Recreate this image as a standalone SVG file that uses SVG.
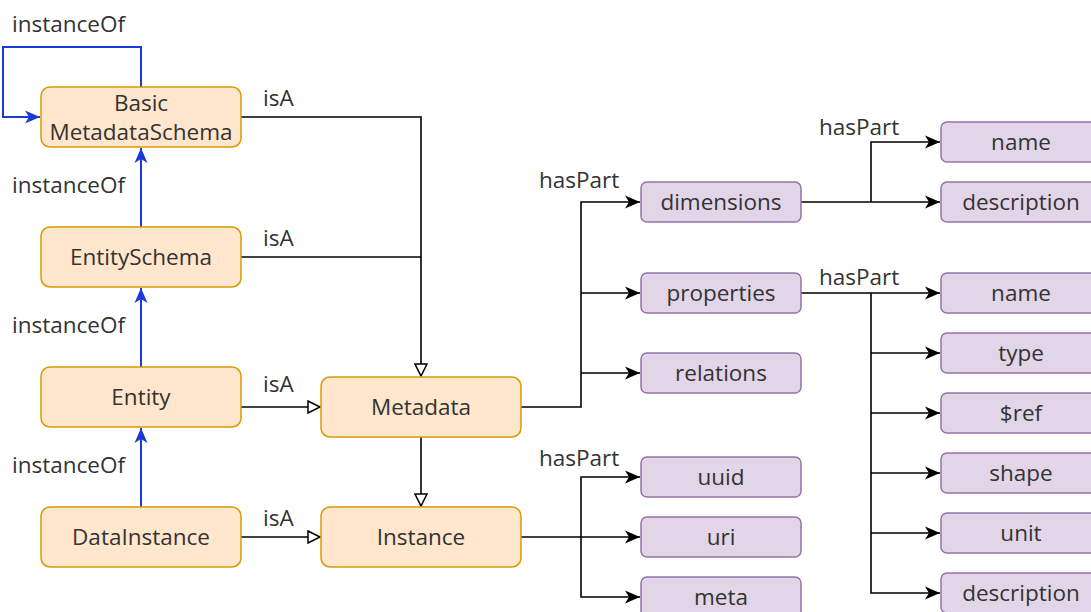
<svg xmlns="http://www.w3.org/2000/svg" width="1091" height="612" viewBox="0 0 1091 612">
  <style>
    text { font-family: "Open Sans", "Liberation Sans", sans-serif; font-size: 22.5px; fill: #333333; }
    .c { text-anchor: middle; dominant-baseline: central; }
    .cls rect { fill: #ffe6cc; stroke: #d79b00; stroke-width: 1.5; }
    .part rect { fill: #e1d5e7; stroke: #9673a6; stroke-width: 1.5; }
    .e { fill: none; stroke: #000000; stroke-width: 1.6; }
    .blue { fill: none; stroke: #1b3bd9; stroke-width: 2; }
  </style>
  <defs>
    <marker id="arrow" markerUnits="userSpaceOnUse" markerWidth="16" markerHeight="14" refX="15" refY="7" orient="auto" viewBox="0 0 16 14">
      <path d="M0,0.5 L15,7 L0,13.5 L4,7 Z" fill="#000000"/>
    </marker>
    <marker id="arrowBlue" markerUnits="userSpaceOnUse" markerWidth="16" markerHeight="14" refX="15" refY="7" orient="auto" viewBox="0 0 16 14">
      <path d="M0,0.5 L15,7 L0,13.5 L4,7 Z" fill="#1b3bd9"/>
    </marker>
    <marker id="block" markerUnits="userSpaceOnUse" markerWidth="15" markerHeight="14" refX="13" refY="7" orient="auto" viewBox="0 0 15 14">
      <path d="M1,1 L13,7 L1,13 Z" fill="#ffffff" stroke="#000000" stroke-width="1.5"/>
    </marker>
  </defs>

  <!-- connectors -->
  <g id="connectors">
    <!-- instanceOf chain -->
    <path class="blue" d="M141,87 V47 H3 V117 H40" marker-end="url(#arrowBlue)"/>
    <path class="blue" d="M141,227 V148" marker-end="url(#arrowBlue)"/>
    <path class="blue" d="M141,367 V288" marker-end="url(#arrowBlue)"/>
    <path class="blue" d="M141,507 V428" marker-end="url(#arrowBlue)"/>
    <!-- isA -->
    <path class="e" d="M241,117 H421 V376" marker-end="url(#block)"/>
    <path class="e" d="M241,257 H421"/>
    <path class="e" d="M241,407 H320" marker-end="url(#block)"/>
    <path class="e" d="M241,537 H320" marker-end="url(#block)"/>
    <path class="e" d="M421,437 V506" marker-end="url(#block)"/>
    <!-- Metadata hasPart -->
    <path class="e" d="M521,407 H581 V202 H640" marker-end="url(#arrow)"/>
    <path class="e" d="M581,293 H640" marker-end="url(#arrow)"/>
    <path class="e" d="M581,373 H640" marker-end="url(#arrow)"/>
    <!-- Instance hasPart -->
    <path class="e" d="M521,537 H640" marker-end="url(#arrow)"/>
    <path class="e" d="M581,537 V477 H640" marker-end="url(#arrow)"/>
    <path class="e" d="M581,537 V597 H640" marker-end="url(#arrow)"/>
    <!-- dimensions hasPart -->
    <path class="e" d="M801,202 H940" marker-end="url(#arrow)"/>
    <path class="e" d="M871,202 V142 H940" marker-end="url(#arrow)"/>
    <!-- properties hasPart -->
    <path class="e" d="M801,293 H940" marker-end="url(#arrow)"/>
    <path class="e" d="M871,293 V593 H940" marker-end="url(#arrow)"/>
    <path class="e" d="M871,353 H940" marker-end="url(#arrow)"/>
    <path class="e" d="M871,413 H940" marker-end="url(#arrow)"/>
    <path class="e" d="M871,473 H940" marker-end="url(#arrow)"/>
    <path class="e" d="M871,533 H940" marker-end="url(#arrow)"/>
  </g>

  <!-- edge labels -->
  <g id="labels">
    <text x="12" y="32">instanceOf</text>
    <text x="12" y="193">instanceOf</text>
    <text x="12" y="333">instanceOf</text>
    <text x="12" y="473">instanceOf</text>
    <text x="263" y="106">isA</text>
    <text x="263" y="246">isA</text>
    <text x="263" y="392">isA</text>
    <text x="263" y="526">isA</text>
    <text x="539" y="188">hasPart</text>
    <text x="539" y="466">hasPart</text>
    <text x="819" y="135">hasPart</text>
    <text x="819" y="285">hasPart</text>
  </g>

  <!-- class nodes -->
  <g id="basic-metadata-schema" class="cls">
    <rect x="41" y="87" width="200" height="60" rx="9"/>
    <text class="c" x="141" y="102">Basic</text>
    <text class="c" x="141" y="131">MetadataSchema</text>
  </g>
  <g id="entity-schema" class="cls">
    <rect x="41" y="227" width="200" height="60" rx="9"/>
    <text class="c" x="141" y="256">EntitySchema</text>
  </g>
  <g id="entity" class="cls">
    <rect x="41" y="367" width="200" height="60" rx="9"/>
    <text class="c" x="141" y="396">Entity</text>
  </g>
  <g id="data-instance" class="cls">
    <rect x="41" y="507" width="200" height="60" rx="9"/>
    <text class="c" x="141" y="536">DataInstance</text>
  </g>
  <g id="metadata" class="cls">
    <rect x="321" y="377" width="200" height="60" rx="9"/>
    <text class="c" x="421" y="406">Metadata</text>
  </g>
  <g id="instance" class="cls">
    <rect x="321" y="507" width="200" height="60" rx="9"/>
    <text class="c" x="421" y="536">Instance</text>
  </g>

  <!-- part nodes -->
  <g id="dimensions" class="part">
    <rect x="641" y="182" width="160" height="40" rx="6"/>
    <text class="c" x="721" y="201">dimensions</text>
  </g>
  <g id="properties" class="part">
    <rect x="641" y="273" width="160" height="40" rx="6"/>
    <text class="c" x="721" y="292">properties</text>
  </g>
  <g id="relations" class="part">
    <rect x="641" y="353" width="160" height="40" rx="6"/>
    <text class="c" x="721" y="372">relations</text>
  </g>
  <g id="uuid" class="part">
    <rect x="641" y="457" width="160" height="40" rx="6"/>
    <text class="c" x="721" y="476">uuid</text>
  </g>
  <g id="uri" class="part">
    <rect x="641" y="517" width="160" height="40" rx="6"/>
    <text class="c" x="721" y="536">uri</text>
  </g>
  <g id="meta" class="part">
    <rect x="641" y="577" width="160" height="40" rx="6"/>
    <text class="c" x="721" y="596">meta</text>
  </g>
  <g id="dim-name" class="part">
    <rect x="941" y="122" width="160" height="40" rx="6"/>
    <text class="c" x="1021" y="141">name</text>
  </g>
  <g id="dim-description" class="part">
    <rect x="941" y="182" width="160" height="40" rx="6"/>
    <text class="c" x="1021" y="201">description</text>
  </g>
  <g id="prop-name" class="part">
    <rect x="941" y="273" width="160" height="40" rx="6"/>
    <text class="c" x="1021" y="292">name</text>
  </g>
  <g id="prop-type" class="part">
    <rect x="941" y="333" width="160" height="40" rx="6"/>
    <text class="c" x="1021" y="352">type</text>
  </g>
  <g id="prop-ref" class="part">
    <rect x="941" y="393" width="160" height="40" rx="6"/>
    <text class="c" x="1021" y="412">$ref</text>
  </g>
  <g id="prop-shape" class="part">
    <rect x="941" y="453" width="160" height="40" rx="6"/>
    <text class="c" x="1021" y="472">shape</text>
  </g>
  <g id="prop-unit" class="part">
    <rect x="941" y="513" width="160" height="40" rx="6"/>
    <text class="c" x="1021" y="532">unit</text>
  </g>
  <g id="prop-description" class="part">
    <rect x="941" y="573" width="160" height="40" rx="6"/>
    <text class="c" x="1021" y="592">description</text>
  </g>
</svg>
